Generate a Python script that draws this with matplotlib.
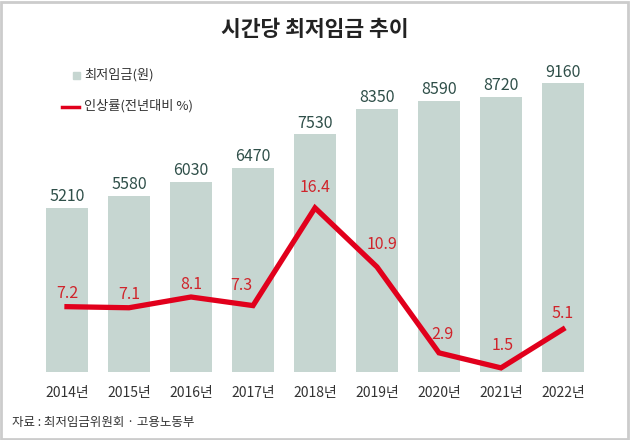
import matplotlib
matplotlib.use("Agg")
import matplotlib.pyplot as plt
from matplotlib.patches import Rectangle
from matplotlib.lines import Line2D

plt.rcParams['font.family'] = ['Noto Sans CJK KR', 'DejaVu Sans']

years = ["2014년", "2015년", "2016년", "2017년", "2018년",
         "2019년", "2020년", "2021년", "2022년"]
wage = [5210, 5580, 6030, 6470, 7530, 8350, 8590, 8720, 9160]
rate = [7.2, 7.1, 8.1, 7.3, 16.4, 10.9, 2.9, 1.5, 5.1]
# label offsets for the rate labels, in pixels (dx, dy above point)
rate_dx = [0, 0, 0, -12, 0, 5, 3, 2, 0]
rate_dy = [13, 13, 13, 20, 20, 22, 18, 22, 16]

bar_color = "#c6d6d1"
bar_text = "#2f4f49"
red = "#e1001c"
red_text = "#d0242b"
narrow = ['Liberation Sans Narrow', 'Noto Sans CJK KR', 'DejaVu Sans']

fig = plt.figure(figsize=(6.3, 4.4), dpi=100)
W, H = 630, 440
PX = 0.72  # points per pixel

# axes: bottom at pixel 372, top at pixel 40
ax = fig.add_axes([36 / W, (H - 372) / H, 558 / W, 332 / H])
x = list(range(len(years)))
ax.bar(x, wage, width=0.68, color=bar_color, zorder=1)
ax.set_xlim(-0.5, len(years) - 0.5)
ax.set_ylim(0, 332 / 0.03155)
for xi, v in zip(x, wage):
    ax.annotate(str(v), (xi, v), xytext=(0, 11 * PX), textcoords="offset points",
                ha="center", va="center", fontsize=11.5, color=bar_text,
                family=narrow)
ax.set_xticks(x)
ax.set_xticklabels(years, family=narrow, fontsize=10, color="#333333")
ax.tick_params(axis="x", length=0, pad=10)
ax.set_yticks([])
for s in ax.spines.values():
    s.set_visible(False)

ax2 = ax.twinx()
ax2.plot(x, rate, color=red, lw=3.8, zorder=3, solid_joinstyle="miter")
ax2.set_ylim((384 - 372) / 10.74, (384 - 40) / 10.74)
for xi, v, dx, dy in zip(x, rate, rate_dx, rate_dy):
    ax2.annotate(f"{v}", (xi, v), xytext=(dx * PX, dy * PX),
                 textcoords="offset points", ha="center", va="center",
                 fontsize=11.5, color=red_text, family=narrow)
ax2.set_yticks([])
for s in ax2.spines.values():
    s.set_visible(False)

# title
fig.text(315 / W, 1 - 30 / H, "시간당 최저임금 추이", ha="center", va="center",
         fontsize=15.5, fontweight="bold", color="#222222")

# legend
fig.patches.append(Rectangle((73 / W, 1 - 79 / H), 7 / W, 7 / H,
                             transform=fig.transFigure, color=bar_color))
fig.text(84 / W, 1 - 75 / H, "최저임금(원)", ha="left", va="center",
         fontsize=9.5, color="#333333")
fig.lines.append(Line2D([62 / W, 79 / W], [1 - 107 / H, 1 - 107 / H],
                        transform=fig.transFigure, color=red, lw=2.5))
fig.text(84 / W, 1 - 106 / H, "인상률(전년대비 %)", ha="left", va="center",
         fontsize=9.5, color="#333333")

# source
fig.text(12 / W, 1 - 422 / H, "자료 : 최저임금위원회 · 고용노동부", ha="left",
         va="center", fontsize=9, color="#333333")

# frame
fig.patches.append(Rectangle((1 / W, 1 / H), 627 / W, 437 / H,
                             transform=fig.transFigure, fill=False,
                             edgecolor="#cccccc", lw=2))

fig.savefig("out.png", dpi=100)
